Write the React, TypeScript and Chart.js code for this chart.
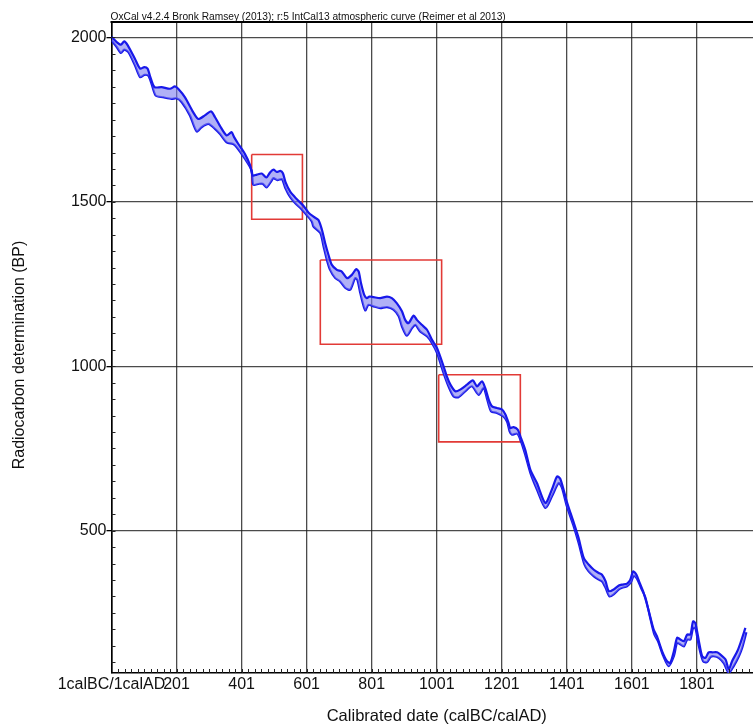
import React, { useEffect, useRef } from "react";
import { Chart, registerables } from "chart.js";

Chart.register(...registerables);

const chartTitle =
  "OxCal v4.2.4 Bronk Ramsey (2013); r:5 IntCal13 atmospheric curve (Reimer et al 2013)";
const xAxisTitle = "Calibrated date (calBC/calAD)";
const yAxisTitle = "Radiocarbon determination (BP)";

const xTickValues = [1, 201, 401, 601, 801, 1001, 1201, 1401, 1601, 1801];
const xTickLabels = ["1calBC/1calAD", "201", "401", "601", "801", "1001", "1201", "1401", "1601", "1801"];
const yTickValues = [500, 1000, 1500, 2000];
const yTickLabels = ["500", "1000", "1500", "2000"];

// upper edge of the calibration band
const upperYears = [
  1, 17, 30, 40, 51, 73, 89, 102, 112, 119, 133, 155, 181, 196, 206, 227, 252, 268, 288, 307,
  319, 334, 355, 370, 378, 391, 411, 427, 435, 448, 463, 477, 489, 499, 509, 520, 528, 536, 551, 571,
  591, 607, 622, 637, 648, 658, 668, 678, 694, 709, 725, 740, 753, 761, 768, 778, 786, 794, 807, 827,
  848, 863, 878, 894, 904, 914, 930, 940, 955, 971, 986, 1002, 1022, 1032, 1043, 1058, 1073, 1094, 1112, 1125,
  1140, 1150, 1161, 1171, 1186, 1202, 1212, 1222, 1227, 1237, 1250, 1258, 1273, 1289, 1309, 1335, 1355, 1371, 1381, 1401,
  1422, 1437, 1453, 1468, 1484, 1499, 1509, 1520, 1530, 1545, 1561, 1571, 1586, 1596, 1605, 1615, 1625, 1637, 1653, 1668,
  1678, 1694, 1709, 1719, 1730, 1740, 1750, 1761, 1771, 1781, 1789, 1796, 1807, 1817, 1827, 1837, 1848, 1863, 1873, 1889,
  1899, 1909, 1925, 1935, 1950,
];
const upperBP = [
  2002, 1986, 1978, 1988, 1976, 1935, 1905, 1910, 1905, 1884, 1849, 1849, 1844, 1851, 1844, 1818, 1773, 1752, 1763, 1775,
  1758, 1732, 1702, 1712, 1697, 1676, 1646, 1612, 1580, 1583, 1586, 1574, 1590, 1598, 1591, 1594, 1587, 1560, 1530, 1508,
  1488, 1467, 1455, 1445, 1415, 1374, 1339, 1309, 1293, 1288, 1268, 1278, 1295, 1288, 1253, 1217, 1207, 1212, 1210, 1207,
  1212, 1207, 1192, 1167, 1141, 1131, 1154, 1141, 1126, 1111, 1081, 1055, 1000, 969, 944, 924, 929, 944, 957, 939,
  954, 934, 898, 878, 873, 868, 853, 827, 812, 815, 807, 787, 746, 685, 645, 584, 625, 665, 657, 588,
  525, 478, 417, 397, 381, 371, 366, 346, 316, 321, 333, 336, 339, 351, 376, 366, 341, 311, 255, 199,
  179, 133, 103, 98, 133, 174, 169, 164, 184, 184, 224, 219, 164, 118, 113, 130, 130, 130, 123, 108,
  78, 103, 133, 159, 204,
];

// lower edge of the calibration band
const lowerYears = [
  1, 17, 30, 40, 53, 73, 89, 102, 114, 124, 137, 160, 186, 201, 217, 242, 263, 278, 299, 319,
  334, 355, 375, 386, 411, 432, 437, 455, 466, 478, 491, 499, 511, 525, 535, 550, 566, 586, 601, 617,
  622, 643, 653, 663, 673, 689, 704, 720, 735, 750, 757, 766, 781, 791, 807, 827, 848, 868, 884, 894,
  909, 925, 935, 950, 971, 986, 1002, 1022, 1037, 1053, 1068, 1089, 1109, 1130, 1145, 1155, 1168, 1186, 1205, 1217,
  1225, 1232, 1248, 1258, 1273, 1289, 1309, 1335, 1355, 1376, 1386, 1401, 1422, 1437, 1455, 1468, 1484, 1499, 1509, 1520,
  1532, 1545, 1561, 1571, 1586, 1598, 1607, 1617, 1629, 1643, 1656, 1670, 1681, 1697, 1714, 1730, 1740, 1750, 1761, 1771,
  1781, 1789, 1796, 1807, 1820, 1832, 1843, 1853, 1868, 1884, 1899, 1914, 1930, 1940, 1953,
];
const lowerBP = [
  1991, 1971, 1953, 1963, 1955, 1915, 1879, 1886, 1884, 1859, 1823, 1818, 1813, 1815, 1803, 1763, 1714, 1727, 1737, 1722,
  1707, 1681, 1676, 1666, 1631, 1595, 1552, 1555, 1555, 1544, 1561, 1572, 1566, 1569, 1543, 1515, 1496, 1477, 1460, 1440,
  1425, 1405, 1364, 1324, 1293, 1268, 1258, 1238, 1233, 1268, 1263, 1222, 1170, 1187, 1182, 1177, 1180, 1172, 1152, 1121,
  1093, 1116, 1126, 1106, 1091, 1071, 1040, 979, 939, 908, 906, 924, 939, 913, 934, 903, 863, 858, 848, 832,
  802, 792, 795, 777, 731, 675, 625, 569, 604, 645, 630, 574, 513, 463, 397, 376, 361, 351, 346, 326,
  300, 306, 321, 326, 331, 343, 363, 353, 326, 295, 240, 184, 164, 120, 88, 118, 159, 154, 148, 169,
  169, 204, 204, 148, 103, 100, 116, 118, 113, 96, 67, 88, 118, 143, 191,
];

// red highlight boxes
const boxYearFrom = [432, 643, 1007];
const boxYearTo = [588, 1016, 1258];
const boxBPTop = [1644, 1323, 974];
const boxBPBottom = [1447, 1067, 770];

const FONT = "'Liberation Sans', Arial, Helvetica, sans-serif";

const decorPlugin = {
  id: "decor",
  afterDraw(chart: any) {
    const { ctx, chartArea } = chart;
    const xs = chart.scales.x;
    const ys = chart.scales.y;
    ctx.save();
    // minor ticks on x axis (every 20 years), inward
    ctx.strokeStyle = "#222";
    ctx.lineWidth = 1;
    ctx.beginPath();
    for (let v = 21; v < xs.max; v += 20) {
      const px = Math.round(xs.getPixelForValue(v)) + 0.5;
      ctx.moveTo(px, chartArea.bottom);
      ctx.lineTo(px, chartArea.bottom - 4);
    }
    // minor ticks on y axis (every 50 BP), inward
    for (let v = 100; v < ys.max; v += 50) {
      const py = Math.round(ys.getPixelForValue(v)) + 0.5;
      ctx.moveTo(chartArea.left, py);
      ctx.lineTo(chartArea.left + 4, py);
    }
    ctx.stroke();
    // top border
    ctx.strokeStyle = "#000";
    ctx.lineWidth = 2;
    ctx.beginPath();
    ctx.moveTo(chartArea.left - 1, chartArea.top);
    ctx.lineTo(chart.width, chartArea.top);
    ctx.stroke();
    // small title
    ctx.fillStyle = "#111";
    ctx.font = "10.2px 'Liberation Sans Narrow', 'Liberation Sans', Arial, sans-serif";
    ctx.textBaseline = "alphabetic";
    ctx.textAlign = "left";
    ctx.fillText(chartTitle, chartArea.left - 1, chartArea.top - 2);
    // y axis title
    ctx.translate(20, 355);
    ctx.rotate(-Math.PI / 2);
    ctx.font = "16px " + FONT;
    ctx.textAlign = "center";
    ctx.textBaseline = "middle";
    ctx.fillText(yAxisTitle, 0, 0);
    ctx.restore();
  },
};

export default function App() {
  const canvasRef = useRef<HTMLCanvasElement | null>(null);

  useEffect(() => {
    if (!canvasRef.current) return;
    const upperData = upperYears.map((x, i) => ({ x, y: upperBP[i] }));
    const lowerData = lowerYears.map((x, i) => ({ x, y: lowerBP[i] }));
    const boxSets = boxYearFrom.map((x0, i) => ({
      label: "box" + i,
      data: [
        { x: x0, y: boxBPTop[i] },
        { x: boxYearTo[i], y: boxBPTop[i] },
        { x: boxYearTo[i], y: boxBPBottom[i] },
        { x: x0, y: boxBPBottom[i] },
        { x: x0, y: boxBPTop[i] },
      ],
      borderColor: "#e23a36",
      borderWidth: 1.6,
      pointRadius: 0,
      fill: false,
      tension: 0,
    }));

    const chart = new Chart(canvasRef.current, {
      type: "line",
      data: {
        datasets: [
          {
            label: "upper",
            data: upperData,
            borderColor: "#1818ea",
            borderWidth: 2.2,
            backgroundColor: "rgba(125,125,240,0.6)",
            fill: "+1",
            pointRadius: 0,
            tension: 0.25,
          },
          {
            label: "lower",
            data: lowerData,
            borderColor: "#1818ea",
            borderWidth: 2.2,
            fill: false,
            pointRadius: 0,
            tension: 0.25,
          },
          ...boxSets,
        ] as any,
      },
      options: {
        animation: false,
        responsive: false,
        devicePixelRatio: 1,
        layout: { padding: { left: 0, top: 22, right: 13, bottom: 0 } },
        plugins: {
          legend: { display: false },
          tooltip: { enabled: false },
        },
        scales: {
          x: {
            type: "linear",
            min: 1,
            max: 2001,
            afterBuildTicks: (scale: any) => {
              scale.ticks = xTickValues.map((v) => ({ value: v }));
            },
            afterFit: (scale: any) => {
              scale.height = 52;
            },
            ticks: {
              autoSkip: false,
              maxRotation: 0,
              minRotation: 0,
              padding: 2,
              color: "#111",
              font: { family: FONT, size: 16 },
              callback: (value: any) => {
                const i = xTickValues.indexOf(Number(value));
                return i >= 0 ? xTickLabels[i] : "";
              },
            },
            grid: {
              color: "rgba(30,30,30,0.8)",
              lineWidth: 1.3,
              drawTicks: false,
            },
            border: { display: true, color: "#000", width: 1.6 },
            title: {
              display: true,
              text: xAxisTitle,
              color: "#111",
              font: { family: FONT, size: 16.5 },
              padding: { top: 0, bottom: -1 },
            },
          },
          y: {
            type: "linear",
            min: 67,
            max: 2047,
            afterBuildTicks: (scale: any) => {
              scale.ticks = yTickValues.map((v) => ({ value: v }));
            },
            afterFit: (scale: any) => {
              scale.width = 111.5;
            },
            ticks: {
              padding: 0,
              color: "#111",
              font: { family: FONT, size: 16 },
              callback: (value: any) => {
                const i = yTickValues.indexOf(Number(value));
                return i >= 0 ? yTickLabels[i] : "";
              },
            },
            grid: {
              color: "rgba(30,30,30,0.8)",
              lineWidth: 1.3,
              drawTicks: true,
              tickLength: 5,
              tickColor: "#000",
            },
            border: { display: true, color: "#000", width: 1.6 },
            title: { display: false },
          },
        },
      } as any,
      plugins: [decorPlugin],
    });
    return () => chart.destroy();
  }, []);

  return (
    <div
      style={{
        position: "fixed",
        left: 0,
        top: 0,
        width: 753,
        height: 725,
        overflow: "hidden",
        background: "#fff",
      }}
    >
      <canvas
        ref={canvasRef}
        width={775}
        height={725}
        style={{ display: "block", width: 775, height: 725 }}
      />
    </div>
  );
}
